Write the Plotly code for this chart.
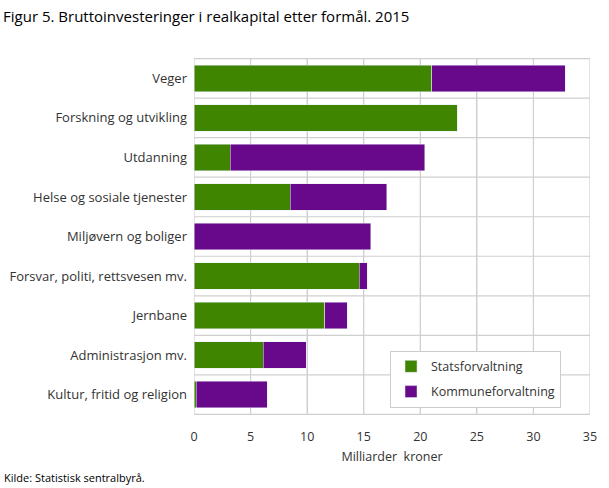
import plotly.graph_objects as go

# Data (milliarder kroner, 2015)
formaal = [
    "Veger",
    "Forskning og utvikling",
    "Utdanning",
    "Helse og sosiale tjenester",
    "Miljøvern og boliger",
    "Forsvar, politi, rettsvesen mv.",
    "Jernbane",
    "Administrasjon mv.",
    "Kultur, fritid og religion",
]
statsforvaltning = [21.0, 23.25, 3.2, 8.5, 0.0, 14.6, 11.55, 6.1, 0.18]
kommuneforvaltning = [11.8, 0.0, 17.2, 8.55, 15.6, 0.7, 2.0, 3.8, 6.3]
x_ticks = [0, 5, 10, 15, 20, 25, 30, 35]

GRID = "#cfcfcf"

fig = go.Figure()
fig.add_trace(go.Bar(
    y=formaal, x=statsforvaltning, orientation="h",
    name="Statsforvaltning", marker_color="#3f8500",
    legendgroup="a",
))
fig.add_trace(go.Bar(
    y=formaal, x=kommuneforvaltning, orientation="h",
    name="Kommuneforvaltning", marker_color="#68088a",
    legendgroup="b",
))

# grid drawn as shapes: vertical at ticks, horizontal at category boundaries
for t in x_ticks:
    fig.add_shape(type="line", xref="x", yref="paper", x0=t, x1=t, y0=0, y1=1,
                  line=dict(color=GRID, width=1.2), layer="between")
for i in range(len(formaal) + 1):
    fig.add_shape(type="line", xref="paper", yref="y", x0=0, x1=1,
                  y0=i - 0.5, y1=i - 0.5,
                  line=dict(color=GRID, width=1.2), layer="between")

fig.update_layout(
    barmode="stack",
    bargap=0.33,
    width=609, height=488,
    margin=dict(l=194, r=19, t=58, b=73, autoexpand=False),
    paper_bgcolor="white",
    plot_bgcolor="rgba(0,0,0,0)",
    font=dict(family="Open Sans", size=12, color="#333333"),
    title=dict(
        text="Figur 5. Bruttoinvesteringer i realkapital etter formål. 2015",
        x=0.005, xanchor="left", y=0.965, yanchor="middle",
        font=dict(family="Open Sans", size=15, color="#000000"),
    ),
    legend=dict(
        x=0.495, y=0.18, xanchor="left", yanchor="top",
        bgcolor="white", bordercolor="#cccccc", borderwidth=1,
        font=dict(size=12.5, color="#333333"),
        tracegroupgap=6, itemwidth=30,
    ),
    annotations=[dict(
        text="Kilde: Statistisk sentralbyrå.",
        xref="paper", yref="paper", x=-192 / 396, y=-0.175,
        xanchor="left", yanchor="middle", showarrow=False,
        font=dict(size=11, color="#000000"),
    )],
)

fig.update_xaxes(
    range=[0, 35], tickvals=x_ticks,
    showgrid=True, gridcolor=GRID, zeroline=False, showline=False,
    ticks="outside", ticklen=10, tickcolor="white",
    title=dict(text="Milliarder  kroner", standoff=8, font=dict(size=12.5)),
    tickfont=dict(size=12.5),
    automargin=False,
)
fig.update_yaxes(
    type="category",
    categoryorder="array", categoryarray=formaal,
    autorange="reversed",
    showgrid=False, showline=False, zeroline=False,
    ticks="", ticklabelstandoff=6,
    tickfont=dict(size=13),
    automargin=False,
)

# body margin off so the 609x488 figure fills the window exactly
fig.write_html(
    "out.html",
    config={"displayModeBar": False},
    post_script="document.body.style.margin='0';",
)
